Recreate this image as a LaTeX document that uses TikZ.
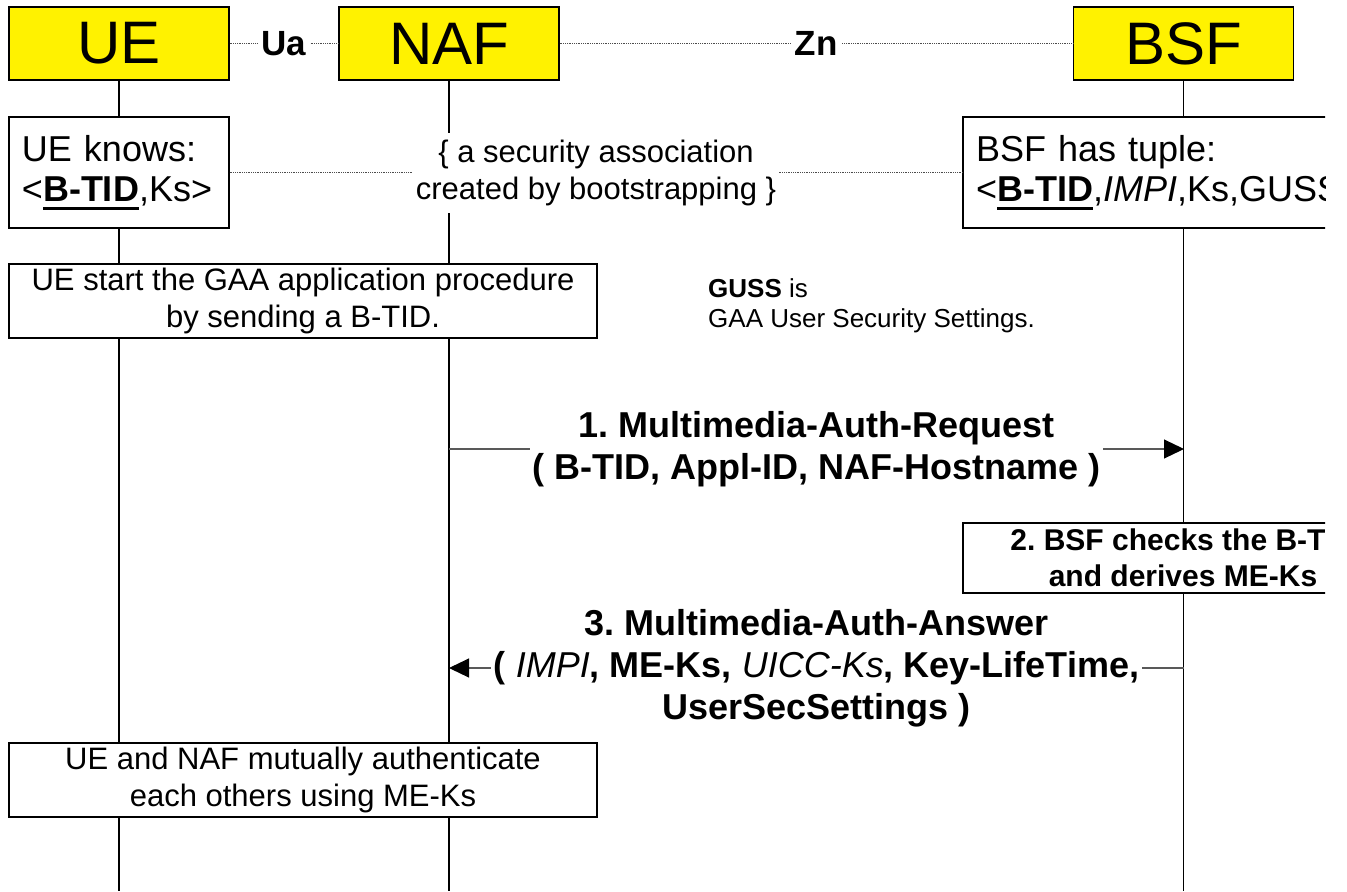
\documentclass[tikz,border=0pt]{standalone}
\usepackage{fontspec}
\setmainfont{Liberation Sans}
\usetikzlibrary{arrows.meta,backgrounds}
\frenchspacing

% font size in big points with a given baseline skip
\newcommand\fsz[2]{\fontsize{#1bp}{#2bp}\selectfont}
% bold word with a heavy underline
\newcommand\ulbold[1]{\setbox0\hbox{\bfseries #1}\rlap{\rule[-8bp]{\wd0}{2.4bp}}\box0}

\tikzset{
  hdr/.style={draw, line width=1.3bp, fill=yellow, minimum width=220bp,
    minimum height=73bp, inner sep=0pt, font=\fsz{60}{66}},
  box/.style={draw, line width=1.3bp, fill=white, inner sep=0pt},
  life/.style={line width=1.3bp},
  assoc/.style={line width=0.9bp, draw=black!70, dash pattern=on 0.9bp off 0.9bp},
  iface/.style={fill=white, text=black, inner xsep=4bp, inner ysep=0pt,
    font=\bfseries\fsz{35}{40}},
  msg/.style={line width=1.1bp, draw=black!65,
    -{Triangle[length=20bp,width=19bp,color=black]}},
  lbl/.style={fill=white, text=black, inner xsep=3bp, inner ysep=2bp, align=center,
    font=\bfseries\fsz{36}{42}},
}

\begin{document}
\begin{tikzpicture}[x=1bp,y=-1bp]
\useasboundingbox (0,0) rectangle (1347,891);
\begin{scope}
\clip (0,0) rectangle (1325,891);

% entities
\node[hdr] (ue)  at (119,43.5)    {UE};
\node[hdr] (naf) at (449,43.5)    {NAF};
\node[hdr] (bsf) at (1183.5,43.5) {BSF};
\coordinate (bottom) at (0,891);

% reference points
\draw[assoc] (ue.east) -- (naf.west) node[midway, iface] (ua) {Ua};
\draw[assoc] (naf.east) -- (bsf.west) node[midway, iface] (zn) {Zn};

% shared key material
\node[box, minimum width=220bp, minimum height=111bp, text width=194bp,
      align=left, font=\fsz{36}{40}] (ueknows) at (119,172.5)
      {UE knows:\\<\ulbold{B-TID},Ks>};
\node[box, minimum width=440bp, minimum height=111bp, text width=414bp,
      align=left, font=\fsz{36}{40}] (bsftuple) at (1183,172.5)
      {BSF has tuple:\\<\ulbold{B-TID},\textit{IMPI},Ks,GUSS>};
\draw[assoc] (ueknows.east) -- (bsftuple.west)
      node[midway, fill=white, text=black, align=center, minimum height=80bp,
           inner xsep=3bp, inner ysep=0pt, font=\fsz{31}{37}] (secassoc)
      {\{ a security association\\created by bootstrapping \}};

% application start
\node[box, minimum width=588bp, minimum height=74bp, align=center,
      font=\fsz{31}{37}] (gaa) at (303,301)
      {UE start the GAA application procedure\\by sending a B-TID.};
\node[anchor=west, inner sep=0pt, align=left, font=\fsz{26}{30}] (guss) at (708,306)
      {\textbf{GUSS} is\\GAA User Security Settings.};

% Zn exchange
\coordinate (m1a) at (449,449);
\coordinate (m1b) at (1184,449);
\draw[msg] (m1a) -- (m1b) node[midway, lbl] (l1)
      {1. Multimedia-Auth-Request\\( B-TID, Appl-ID, NAF-Hostname )};

\node[box, minimum width=440bp, minimum height=70bp, align=center,
      font=\bfseries\fsz{30}{36}] (check) at (1183,558)
      {2. BSF checks the B-TID\\and derives ME-Ks};

\coordinate (m3a) at (1184,668);
\coordinate (m3b) at (449,668);
\draw[msg] (m3a) -- (m3b) node[midway, lbl] (l3)
      {3. Multimedia-Auth-Answer\\( {\mdseries\itshape IMPI}, ME-Ks, {\mdseries\itshape UICC-Ks}, Key-LifeTime,\\UserSecSettings )};

% mutual authentication
\node[box, minimum width=588bp, minimum height=74bp, align=center,
      font=\fsz{31}{37}] (mutual) at (303,780)
      {UE and NAF mutually authenticate\\each others using ME-Ks};

% lifelines
\begin{pgfonlayer}{background}
  \draw[life] (ue.south)  -- (ue.south |- bottom);
  \draw[life] (naf.south) -- (naf.south |- bottom);
  \draw[life] (bsf.south) -- (bsf.south |- bottom);
\end{pgfonlayer}
\end{scope}
\end{tikzpicture}
\end{document}
